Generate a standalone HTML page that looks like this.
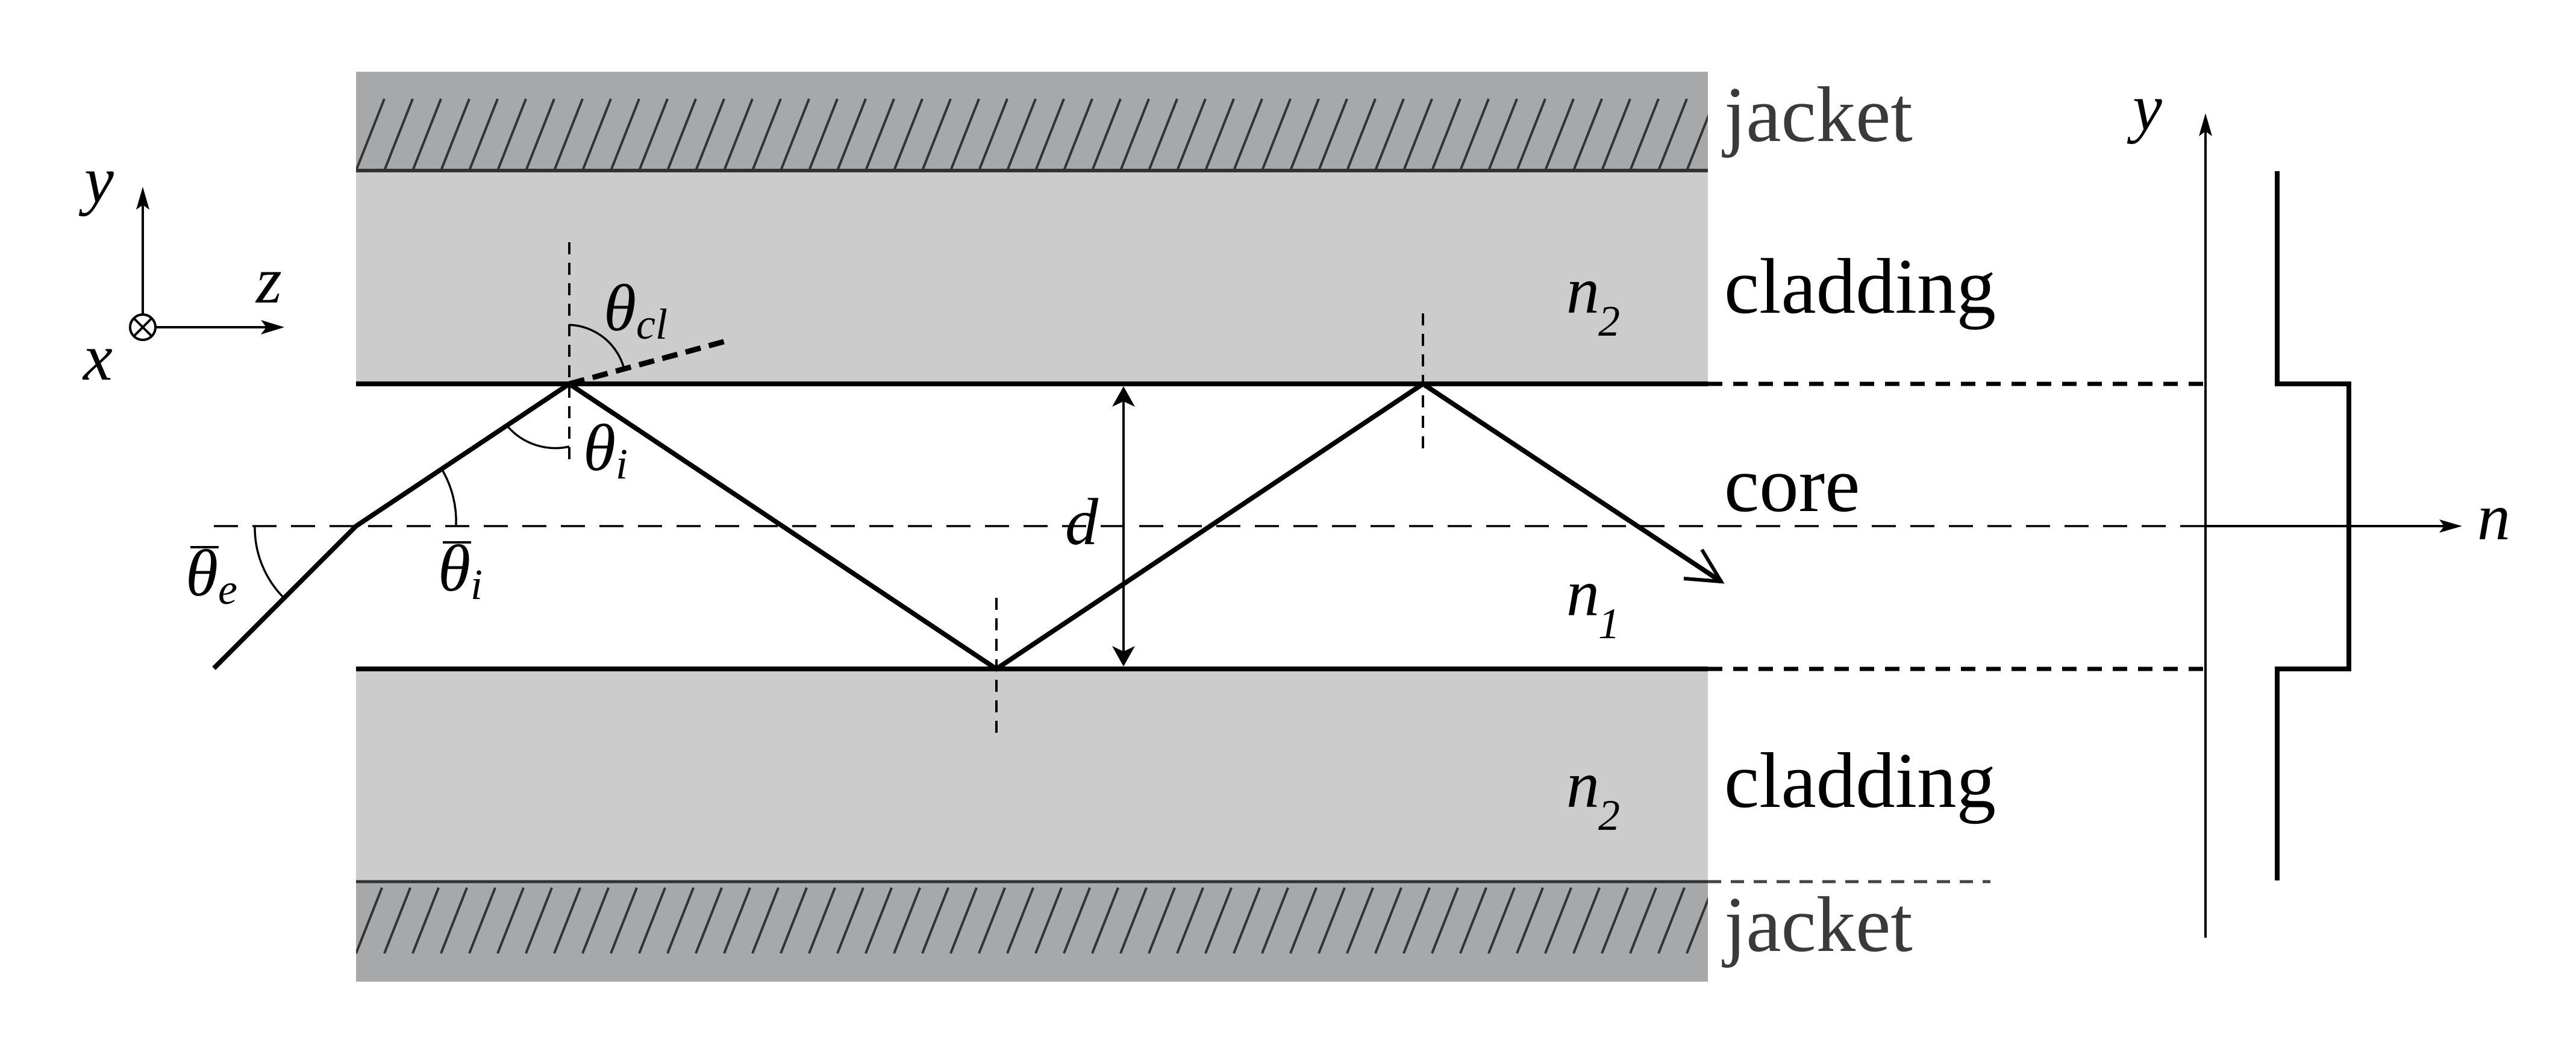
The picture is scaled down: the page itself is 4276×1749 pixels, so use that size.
<!DOCTYPE html>
<html><head><meta charset="utf-8"><style>
html,body{margin:0;padding:0;background:#fff}
svg{display:block}
svg text{font-family:"Liberation Serif","DejaVu Serif","Times New Roman",serif !important}
</style></head><body>
<svg width="4276" height="1749" viewBox="0 0 4276 1749">
<defs>
<clipPath id="cj1"><rect x="591" y="119" width="2244" height="164"/></clipPath>
<clipPath id="cj2"><rect x="591" y="1463" width="2244" height="166"/></clipPath>
</defs>
<rect x="591" y="119" width="2244" height="164" fill="#a7a8aa"/>
<rect x="591" y="283" width="2244" height="354" fill="#cccccc"/>
<rect x="591" y="1110" width="2244" height="353" fill="#cccccc"/>
<rect x="591" y="1463" width="2244" height="166" fill="#a7a8aa"/>
<g id="hatch1" clip-path="url(#cj1)" stroke="#333" stroke-width="4"></g>
<g id="hatch2" clip-path="url(#cj2)" stroke="#333" stroke-width="4"></g>
<line x1="591" y1="283" x2="2835" y2="283" stroke="#333" stroke-width="6"/>
<line x1="591" y1="1463" x2="2835" y2="1463" stroke="#333" stroke-width="5"/>
<line x1="2835" y1="1463" x2="3304" y2="1463" stroke="#444" stroke-width="5" stroke-dasharray="22 16"/>
<line x1="591" y1="637" x2="2835" y2="637" stroke="#000" stroke-width="8"/>
<line x1="591" y1="1110" x2="2835" y2="1110" stroke="#000" stroke-width="8"/>
<line x1="2835" y1="637" x2="3661" y2="637" stroke="#000" stroke-width="7" stroke-dasharray="24 18"/>
<line x1="2835" y1="1110" x2="3661" y2="1110" stroke="#000" stroke-width="7" stroke-dasharray="24 18"/>
<line x1="355" y1="873" x2="3661" y2="873" stroke="#000" stroke-width="3.5" stroke-dasharray="40 24"/>
<g stroke="#000" stroke-width="4" stroke-dasharray="20 14">
<line x1="945" y1="402" x2="945" y2="773"/>
<line x1="1654" y1="992" x2="1654" y2="1227"/>
<line x1="2362" y1="520" x2="2362" y2="755"/>
</g>
<polyline points="355,1109 591,873 945,637 1654,1110 2362,637 2857,965" fill="none" stroke="#000" stroke-width="8" stroke-linejoin="miter"/>
<polyline points="2795,960 2857,965 2825,912" fill="none" stroke="#000" stroke-width="6"/>
<line x1="945" y1="637" x2="1205" y2="566" stroke="#000" stroke-width="9" stroke-dasharray="26 14"/>
<g fill="none" stroke="#000" stroke-width="3.5">
<path d="M945,539 A98,98 0 0 1 1036,612"/>
<path d="M945,741 A105,105 0 0 1 843,708"/>
<path d="M733,778 A170,170 0 0 1 757,873"/>
<path d="M423,873 A165,165 0 0 0 472,993"/>
</g>
<line x1="1865" y1="645" x2="1865" y2="1102" stroke="#000" stroke-width="4"/>
<path d="M1865,641 L1846,675 L1865,666 L1884,675 Z" fill="#000"/>
<path d="M1865,1106 L1846,1072 L1865,1081 L1884,1072 Z" fill="#000"/>
<g stroke="#000" stroke-width="4" fill="none">
<line x1="237" y1="521" x2="237" y2="330"/>
<line x1="259" y1="543" x2="455" y2="543"/>
<circle cx="237" cy="543" r="21"/>
<line x1="222" y1="528" x2="252" y2="558"/><line x1="252" y1="528" x2="222" y2="558"/>
</g>
<path d="M237,310 L226,348 L237,340 L248,348 Z" fill="#000"/>
<path d="M472,543 L433,531 L442,543 L433,555 Z" fill="#000"/>
<line x1="3661" y1="1556" x2="3661" y2="200" stroke="#000" stroke-width="4"/>
<path d="M3661,188 L3650,226 L3661,218 L3672,226 Z" fill="#000"/>
<line x1="3661" y1="873" x2="4075" y2="873" stroke="#000" stroke-width="4"/>
<path d="M4087,873 L4049,862 L4057,873 L4049,884 Z" fill="#000"/>
<polyline points="3780,284 3780,637 3899,637 3899,1110 3780,1110 3780,1461" fill="none" stroke="#000" stroke-width="8"/>
<g font-size="131" fill="#3a3a3a">
<text x="2862" y="234">jacket</text>
<text x="2862" y="1578">jacket</text>
</g>
<g font-size="131" fill="#000">
<text x="2862" y="519">cladding</text>
<text x="2862" y="848">core</text>
<text x="2862" y="1339">cladding</text>
</g>
<g font-style="italic" fill="#000" font-size="110">
<text x="2600" y="519">n<tspan font-size="72" dy="38" dx="-2">2</tspan></text>
<text x="2600" y="1021">n<tspan font-size="72" dy="38" dx="-2">1</tspan></text>
<text x="2600" y="1339">n<tspan font-size="72" dy="38" dx="-2">2</tspan></text>
<text x="1768" y="903">d</text>
<text x="3540" y="215">y</text>
<text x="4112" y="895">n</text>
<text x="140" y="335">y</text>
<text x="425" y="502">z</text>
<text x="138" y="630">x</text>
<text x="1002" y="548">θ<tspan font-size="72" dy="14">cl</tspan></text>
<text x="968" y="780">θ<tspan font-size="72" dy="14">i</tspan></text>
<text x="727" y="980">θ<tspan font-size="72" dy="14">i</tspan></text>
<text x="308" y="988">θ<tspan font-size="72" dy="14">e</tspan></text>
</g>
<line x1="735" y1="900" x2="782" y2="900" stroke="#000" stroke-width="4"/>
<line x1="316" y1="908" x2="363" y2="908" stroke="#000" stroke-width="4"/>
</svg>
<script>
var hatchSpacing = 47;
function hatch(id, y0, y1){
  var g=document.getElementById(id);
  for(var x=591; x<2900; x+=hatchSpacing){
    var l=document.createElementNS('http://www.w3.org/2000/svg','line');
    l.setAttribute('x1',x); l.setAttribute('y1',y1);
    l.setAttribute('x2',x+47*(y1-y0)/119); l.setAttribute('y2',y0);
    
    
    g.appendChild(l);
  }
}
hatch('hatch1',164,283);
hatch('hatch2',1473,1582);
</script>
</body></html>
